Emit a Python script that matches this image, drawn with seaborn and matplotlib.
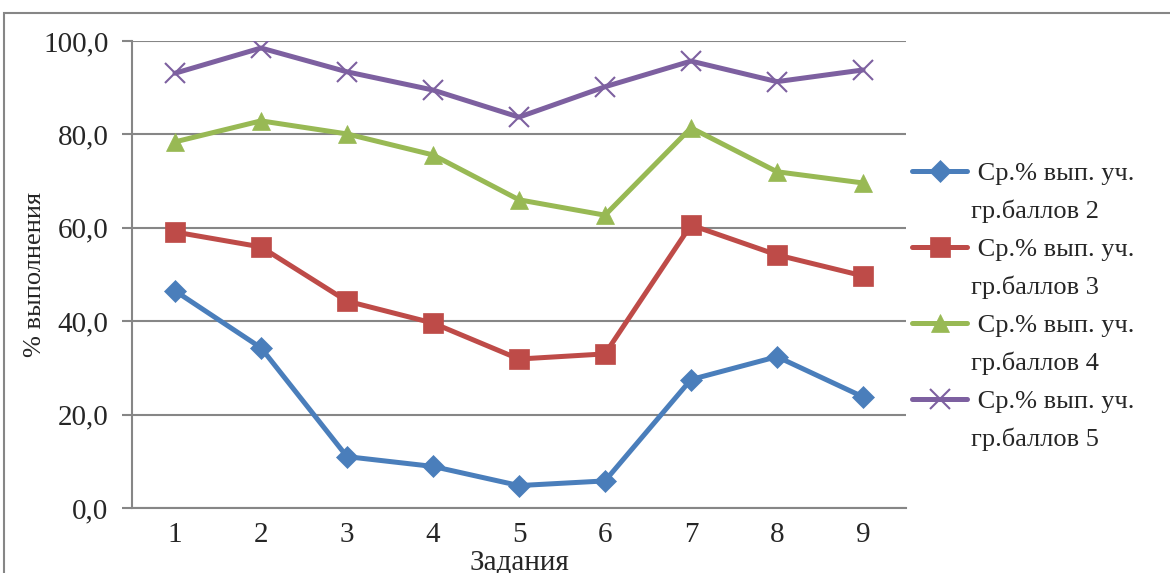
"""Line chart: average task completion by score group."""

import matplotlib
matplotlib.use("Agg")
import matplotlib.pyplot as plt
from matplotlib.lines import Line2D
from matplotlib.patches import Rectangle
import pandas as pd
import seaborn as sns

# Data
tasks = [1, 2, 3, 4, 5, 6, 7, 8, 9]
group_2 = [46.5, 34.3, 11.0, 8.9, 4.8, 5.8, 27.5, 32.4, 23.8]
group_3 = [59.1, 55.9, 44.3, 39.6, 31.9, 33.0, 60.6, 54.2, 49.7]
group_4 = [78.4, 82.9, 80.1, 75.6, 66.0, 62.7, 81.4, 72.0, 69.6]
group_5 = [93.1, 98.5, 93.4, 89.5, 83.7, 90.2, 95.7, 91.3, 93.8]
series_names = ["гр.баллов 2", "гр.баллов 3", "гр.баллов 4", "гр.баллов 5"]
label_prefix = "Ср.% вып. уч."
y_ticks = [0, 20, 40, 60, 80, 100]

colors = ["#4A7EBB", "#BE4B48", "#98B954", "#7D60A0"]
markers = ["D", "s", "^", "x"]
marker_sizes = [11, 14, 13, 15]

sns.set_style("white")
plt.rcParams.update({
    "font.family": ["Liberation Serif", "DejaVu Serif"],
    "font.size": 21,
    "axes.edgecolor": "#868686",
    "axes.linewidth": 1.5,
})

df = pd.DataFrame({
    "task": tasks * 4,
    "value": group_2 + group_3 + group_4 + group_5,
    "series": sum([[s] * len(tasks) for s in series_names], []),
})

fig = plt.figure(figsize=(11.7, 5.73), dpi=100)
ax = fig.add_axes([132 / 1170, 1 - 508 / 573, 774 / 1170, 467 / 573])

for name, col, mk, ms in zip(series_names, colors, markers, marker_sizes):
    sub = df[df["series"] == name]
    sns.lineplot(
        data=sub, x="task", y="value", ax=ax, color=col, linewidth=3.6,
        marker=mk, markersize=ms, markeredgecolor=col,
        markeredgewidth=1.5 if mk == "x" else 0.5, label=name,
    )

ax.set_xlim(0.5, 9.5)
ax.set_ylim(0, 100)
ax.set_yticks(y_ticks)
ax.set_yticklabels([f"{v:.1f}".replace(".", ",") for v in y_ticks])
ax.set_xticks(tasks)
ax.set_xticks([t + 0.5 for t in [0] + tasks], minor=True)
ax.tick_params(axis="x", which="major", length=0, pad=10)
ax.tick_params(axis="x", which="minor", length=7, width=1.5, color="#868686",
               direction="out")
ax.tick_params(axis="y", length=7, width=1.5, color="#868686", pad=10,
               left=True)
ax.yaxis.grid(True, color="#868686", linewidth=1.5)
ax.set_axisbelow(True)
for side in ["top", "right"]:
    ax.spines[side].set_visible(False)

ax.set_xlabel("Задания", labelpad=1)
ax.set_ylabel("% выполнения", fontsize=19, labelpad=-2)

# legend: handle on the first line, group name on the second line
ax.get_legend().remove()
handles, _ = ax.get_legend_handles_labels()
leg_handles, leg_labels = [], []
for h, name in zip(handles, series_names):
    leg_handles += [h, Line2D([], [], linestyle="none")]
    leg_labels += [" " + label_prefix, name]
fig.legend(
    leg_handles, leg_labels, loc="upper left",
    bbox_to_anchor=(912 / 1170, 1 - 162 / 573),
    frameon=False, handlelength=2.1, handletextpad=0.15,
    labelspacing=0.55, fontsize=19, borderpad=0, borderaxespad=0,
)

# outer chart border
fig.add_artist(Rectangle((4 / 1170, -0.2), 1.5, 1.2 - 13 / 573,
                         transform=fig.transFigure, fill=False,
                         edgecolor="#868686", linewidth=1.5))

fig.savefig("out.png", dpi=100)
